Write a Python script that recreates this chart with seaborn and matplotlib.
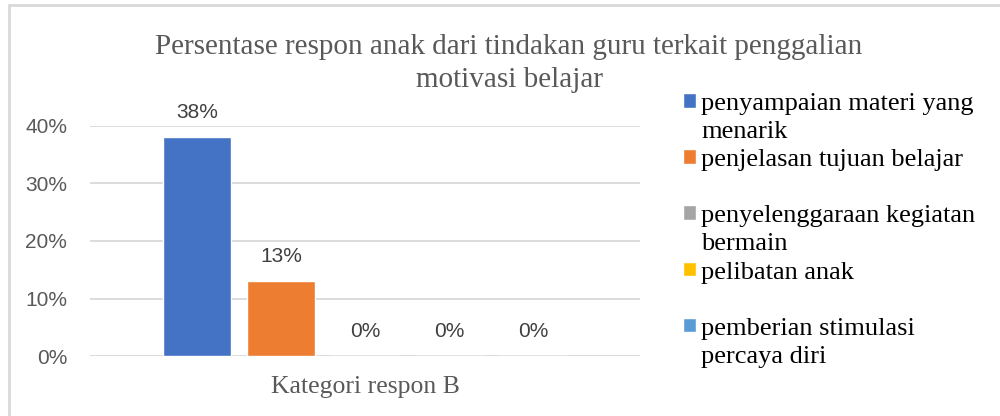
import textwrap
import matplotlib
matplotlib.use("Agg")
import matplotlib.pyplot as plt
from matplotlib.lines import Line2D
from matplotlib.ticker import PercentFormatter, MultipleLocator
import pandas as pd
import seaborn as sns

# ---- data ----
category = ["Kategori respon B"]
series = [
    "penyampaian materi yang menarik",
    "penjelasan tujuan belajar",
    "penyelenggaraan kegiatan bermain",
    "pelibatan anak",
    "pemberian stimulasi percaya diri",
]
values = [0.38, 0.13, 0.0, 0.0, 0.0]
colors = ["#4472C4", "#ED7D31", "#A5A5A5", "#FFC000", "#5B9BD5"]
title = "Persentase respon anak dari tindakan guru terkait penggalian\nmotivasi belajar"

df = pd.DataFrame({"kategori": category * len(series), "seri": series, "nilai": values})

sns.set_theme(style="white")
SANS = ["Liberation Sans", "DejaVu Sans"]
SERIF = ["Liberation Serif", "DejaVu Serif"]
plt.rcParams["font.family"] = SANS

fig = plt.figure(figsize=(10, 4.16), dpi=100)
ax = fig.add_axes([0.09, 1 - 356 / 416, 0.55, (356 - 126) / 416])

sns.barplot(data=df, x="kategori", y="nilai", hue="seri", hue_order=series,
            palette=colors, width=0.764, gap=0.2, saturation=1, ax=ax, legend=True)

ax.set_xlim(-0.5, 0.5)
ax.set_ylim(0, 0.4)
ax.yaxis.set_major_locator(MultipleLocator(0.1))
ax.yaxis.set_major_formatter(PercentFormatter(1.0, decimals=0))
ax.grid(axis="y", color="#D9D9D9", linewidth=1.3)
ax.set_axisbelow(True)
for s in ax.spines.values():
    s.set_visible(False)
ax.tick_params(axis="y", length=0, labelsize=15, labelcolor="#595959", pad=16.5)
ax.tick_params(axis="x", length=0, labelsize=18.5, labelcolor="#595959", pad=14.5)
for t in ax.get_xticklabels():
    t.set_fontfamily(SERIF)
ax.set_xlabel("")
ax.set_ylabel("")

for cont, v in zip(ax.containers, values):
    ax.bar_label(cont, labels=[f"{v:.0%}"], padding=11, fontsize=15, color="#404040")

handles, _ = ax.get_legend_handles_labels()
ax.legend_.remove()
disp = []
for s in series:
    w = textwrap.wrap(s, 25)
    if len(w) == 1:
        w.append(" ")
    disp.append("\n".join(w))
leg = fig.legend(handles, disp, loc="upper left", bbox_to_anchor=(0.683, 1 - 93 / 416),
                 frameon=False, prop={"family": SERIF, "size": 19},
                 handlelength=0.48, handleheight=0.48, handletextpad=0.2,
                 labelspacing=0.23, borderpad=0, borderaxespad=0)
for t in leg.get_texts():
    t.set_linespacing(1.36)
    t.set_color("black")
for col in leg._legend_handle_box.get_children():
    for hp in col.get_children():
        hp.align = "top"

fig.text(0.509, 1 - 34 / 416, title, ha="center", va="top", fontsize=21,
         color="#595959", family=SERIF, linespacing=1.33)

# chart border (top and left edges visible)
fig.add_artist(Line2D([0.009, 1.0], [1 - 5 / 416, 1 - 5 / 416], transform=fig.transFigure,
                      color="#D9D9D9", linewidth=2))
fig.add_artist(Line2D([0.009, 0.009], [0, 1 - 5 / 416], transform=fig.transFigure,
                      color="#D9D9D9", linewidth=2))

fig.savefig("out.png", dpi=100, facecolor="white")
